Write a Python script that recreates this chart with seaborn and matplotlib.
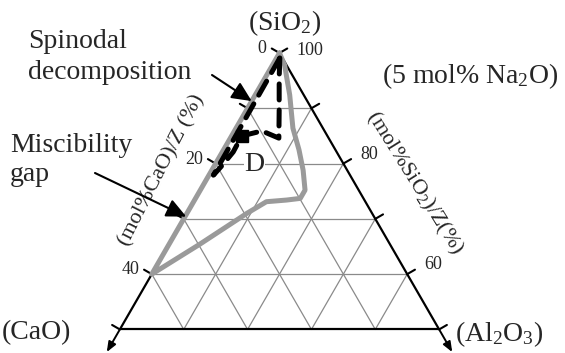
import numpy as np
import matplotlib
matplotlib.use("Agg")
import matplotlib.pyplot as plt
import seaborn as sns

sns.set_theme(style="white")
plt.rcParams["font.family"] = ["Liberation Serif", "DejaVu Serif"]
plt.rcParams["mathtext.default"] = "regular"

# compositions in % of Z (CaO, SiO2), Al2O3 = 100 - CaO - SiO2
gap_cao = [0, 40, 29.8, 19.6, 15.5, 12.2, 9.9, 8.4, 6.9, 5.7, 4.7, 2.2, 0.3, 0]
gap_sio2 = [100, 60, 65.4, 71.0, 73.1, 73.4, 73.7, 75.2, 78.8, 82.5, 86.4, 92.4, 97.8, 100]

spin_cao = [0.4, 2.3, 5.2, 7.8, 9.8, 13.4, 16.2, 19.1, 21.4, 0.4]
spin_sio2 = [99.1, 95.5, 89.7, 84.6, 85.9, 85.0, 82.1, 79.7, 77.9, 99.1]

square_cao = [13.4]
square_sio2 = [85.0]

point_d = (14.0, 79.8)          # composition labelled "D"
spinodal_tip = (8.7, 91.3)      # where the arrows point
gap_tip = (29.4, 70.4)

grid_levels = [10, 20, 30, 40]
tick_levels = [100, 90, 80, 70, 60, 50]
left_labels = {100: "0", 80: "20", 60: "40"}
right_labels = {100: "100", 80: "80", 60: "60"}
bottom_sio2 = 50


def tern(cao, sio2):
    cao = np.asarray(cao, dtype=float)
    sio2 = np.asarray(sio2, dtype=float)
    al2o3 = 100 - cao - sio2
    return al2o3 + sio2 / 2, sio2 * np.sqrt(3) / 2


fig = plt.figure(figsize=(5.65, 3.53), dpi=100)
ax = fig.add_axes([0, 0, 1, 1])
ax.set_xlim(6.23, 94.71)
ax.set_ylim(39.61, 94.90)
ax.axis("off")

grid_kw = dict(color="#8a8a8a", lw=0.9, zorder=1)
# horizontal lines (constant SiO2)
for s in [60, 70, 80, 90]:
    x, y = tern([100 - s, 0], [s, s])
    ax.plot(x, y, **grid_kw)
# lines of constant CaO and constant Al2O3
for k in grid_levels:
    x, y = tern([k, k], [100 - k, bottom_sio2])
    ax.plot(x, y, **grid_kw)
    x, y = tern([0, 50 - k], [100 - k, bottom_sio2])
    ax.plot(x, y, **grid_kw)

# triangle edges
edge_kw = dict(color="black", lw=1.6, zorder=2, solid_capstyle="butt")
x, y = tern([0, 100 - bottom_sio2], [100, bottom_sio2])
ax.plot(x, y, **edge_kw)
x, y = tern([0, 0], [100, bottom_sio2])
ax.plot(x, y, **edge_kw)
x, y = tern([100 - bottom_sio2, 0], [bottom_sio2, bottom_sio2])
ax.plot(x, y, **edge_kw)

arrow_kw = dict(arrowstyle="-|>,head_length=0.5,head_width=0.2", color="black",
                lw=1.4, mutation_scale=12, shrinkA=0, shrinkB=0)
ax.annotate("", xy=tern(54.1, 45.9), xytext=tern(50, 50), arrowprops=arrow_kw)
ax.annotate("", xy=tern(0, 45.9), xytext=tern(0, 50), arrowprops=arrow_kw)

# ticks and tick labels
tick_len = 1.4
box = dict(facecolor="white", edgecolor="none", pad=0.5)
for s in tick_levels:
    lx, ly = tern(100 - s, s)
    ax.plot([lx, lx - 0.866 * tick_len], [ly, ly + 0.5 * tick_len], color="black", lw=1.5, zorder=2)
    rx, ry = tern(0, s)
    ax.plot([rx, rx + 0.866 * tick_len], [ry, ry + 0.5 * tick_len], color="black", lw=1.5, zorder=2)
    if s in left_labels:
        ax.text(lx - 2.0, ly + 0.65, left_labels[s], ha="right", va="center",
                fontsize=13, bbox=box, zorder=3)
    if s in right_labels:
        lift = 0.45 if s == 100 else 1.45
        ax.text(rx + 2.6, ry + lift, right_labels[s], ha="left", va="center",
                fontsize=13, bbox=box, zorder=3)

# miscibility gap
gx, gy = tern(gap_cao, gap_sio2)
sns.lineplot(x=gx, y=gy, sort=False, estimator=None, color="#9a9a9a", lw=3.6,
             ax=ax, zorder=4, solid_joinstyle="round", solid_capstyle="round")

# spinodal
sx, sy = tern(spin_cao, spin_sio2)
sns.lineplot(x=sx, y=sy, sort=False, estimator=None, color="black", lw=3.6,
             linestyle=(0, (3.2, 2.0)), ax=ax, zorder=5, dash_capstyle="round")
qx, qy = tern(square_cao, square_sio2)
ax.plot(qx, qy, marker="s", ms=9, color="black", ls="none", zorder=6)

dx, dy = tern(*point_d)
ax.text(dx, dy, "D", ha="center", va="center", fontsize=20,
        bbox=dict(facecolor="white", edgecolor="none", pad=0.5), zorder=3)

# labels
W, H = 565.0, 353.0


def at(px, py):
    return px / W, 1 - py / H


big = 20
ax.text(*at(285, 30), "(SiO$_2$)", ha="center", va="baseline", fontsize=big, transform=ax.transAxes)
ax.text(*at(2, 339), "(CaO)", ha="left", va="baseline", fontsize=big, transform=ax.transAxes)
ax.text(*at(455, 341), "(Al$_2$O$_3$)", ha="left", va="baseline", fontsize=big, transform=ax.transAxes)
ax.text(*at(382, 83), "(5 mol% Na$_2$O)", ha="left", va="baseline", fontsize=big, transform=ax.transAxes)
ax.text(*at(28, 48), "Spinodal", ha="left", va="baseline", fontsize=big, transform=ax.transAxes)
ax.text(*at(28, 79), "decomposition", ha="left", va="baseline", fontsize=big, transform=ax.transAxes)
ax.text(*at(10, 152), "Miscibility", ha="left", va="baseline", fontsize=big, transform=ax.transAxes)
ax.text(*at(10, 181), "gap", ha="left", va="baseline", fontsize=big, transform=ax.transAxes)

ax.text(*at(162, 170), "(mol%CaO)/Z (%)", ha="center", va="center", rotation=63,
        rotation_mode="anchor", fontsize=16, transform=ax.transAxes)
ax.text(*at(415, 183), "(mol%SiO$_2$)/Z(%)", ha="center", va="center", rotation=-58,
        rotation_mode="anchor", fontsize=16, transform=ax.transAxes)

pointer = dict(arrowstyle="-|>,head_length=0.6,head_width=0.28", color="black",
               lw=1.5, mutation_scale=20, shrinkA=0, shrinkB=0)
ax.annotate("", xy=tern(*spinodal_tip), xytext=at(212, 75), textcoords="axes fraction",
            arrowprops=pointer, zorder=7)
ax.annotate("", xy=tern(*gap_tip), xytext=at(95, 173), textcoords="axes fraction",
            arrowprops=pointer, zorder=7)

fig.savefig("out.png", dpi=100)
